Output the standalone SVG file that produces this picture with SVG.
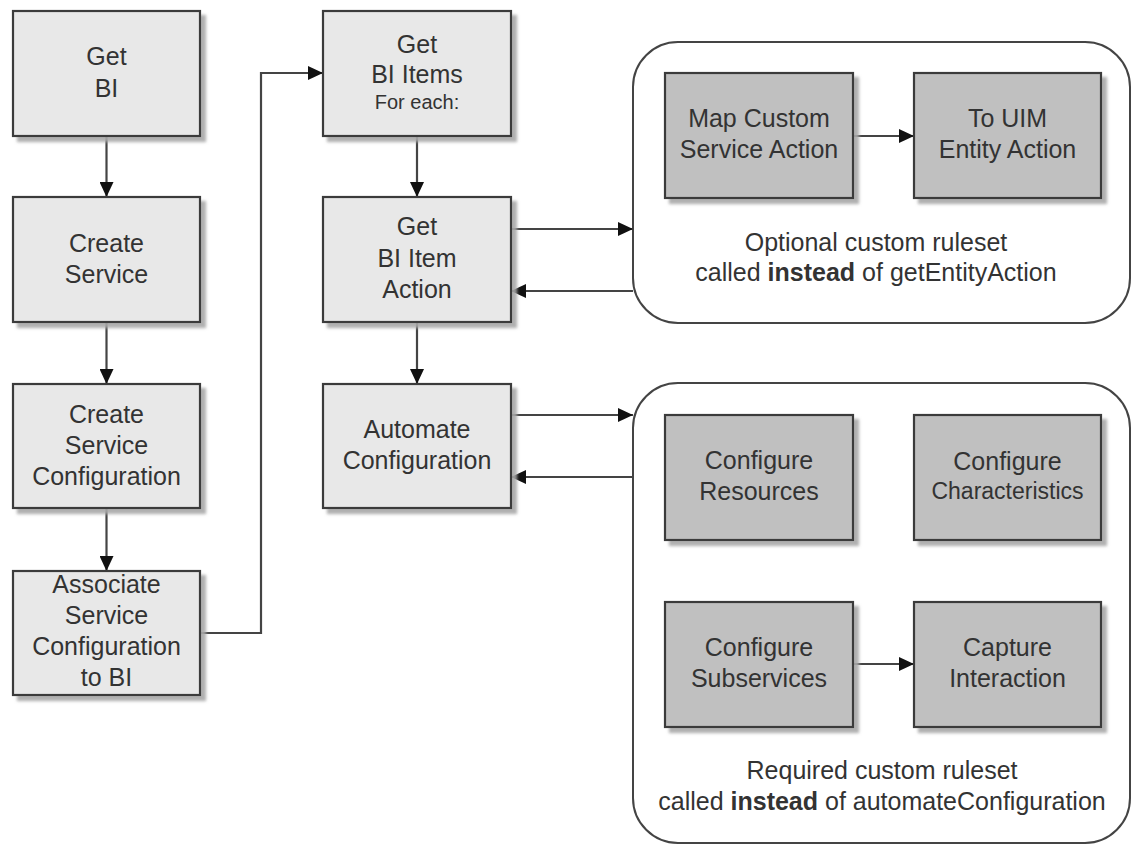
<svg xmlns="http://www.w3.org/2000/svg" width="1132" height="846" viewBox="0 0 1132 846">
<defs>
<style>
.t{font-family:"Liberation Sans",Arial,sans-serif;font-size:25px;fill:#333;text-anchor:middle}
.s{font-size:20px}
.c{font-size:23px}
.b{font-weight:bold}
.lt{fill:#e8e8e8;stroke:#3a3a3a;stroke-width:2.2}
.dk{fill:#c0c0c0;stroke:#3a3a3a;stroke-width:2.2}
.grp{fill:#fff;stroke:#444;stroke-width:2}
.ln{fill:none;stroke:#444;stroke-width:2.2;marker-end:url(#ah)}
</style>
<marker id="ah" markerUnits="userSpaceOnUse" markerWidth="15" markerHeight="14" refX="15" refY="7" orient="auto">
<path d="M0,0 L15,7 L0,14 z" fill="#111"/>
</marker>
<filter id="sh" x="-10%" y="-10%" width="130%" height="130%">
<feDropShadow dx="5" dy="5" stdDeviation="1.5" flood-color="#a8a8a8" flood-opacity="0.9"/>
</filter>
</defs>
<rect width="1132" height="846" fill="#fff"/>

<g id="group-optional">
<rect class="grp" x="633" y="42" width="497" height="281" rx="45" ry="45"/>
<text class="t" x="876" y="251">Optional custom ruleset</text>
<text class="t" x="876" y="281">called <tspan class="b">instead</tspan> of getEntityAction</text>
</g>
<g id="group-required">
<rect class="grp" x="633" y="383" width="497" height="460" rx="45" ry="45"/>
<text class="t" x="882" y="779">Required custom ruleset</text>
<text class="t" x="882" y="810">called <tspan class="b">instead</tspan> of automateConfiguration</text>
</g>

<g id="connectors">
<line class="ln" x1="106.5" y1="136" x2="106.5" y2="197"/>
<line class="ln" x1="106.5" y1="322" x2="106.5" y2="384"/>
<line class="ln" x1="106.5" y1="508" x2="106.5" y2="571"/>
<polyline class="ln" points="200,633 261,633 261,73 323,73"/>
<line class="ln" x1="417" y1="136" x2="417" y2="197"/>
<line class="ln" x1="417" y1="322" x2="417" y2="384"/>
<line class="ln" x1="511" y1="229" x2="633" y2="229"/>
<line class="ln" x1="633" y1="291" x2="511" y2="291"/>
<line class="ln" x1="511" y1="415" x2="633" y2="415"/>
<line class="ln" x1="633" y1="477" x2="511" y2="477"/>
<line class="ln" x1="853" y1="136" x2="914" y2="136"/>
<line class="ln" x1="853" y1="664" x2="914" y2="664"/>
</g>

<g id="get-bi">
<rect class="lt" filter="url(#sh)" x="13" y="11" width="187" height="125"/>
<text class="t" x="106.5" y="65">Get</text>
<text class="t" x="106.5" y="97">BI</text>
</g>
<g id="create-service">
<rect class="lt" filter="url(#sh)" x="13" y="197" width="187" height="125"/>
<text class="t" x="106.5" y="252">Create</text>
<text class="t" x="106.5" y="283">Service</text>
</g>
<g id="create-service-configuration">
<rect class="lt" filter="url(#sh)" x="13" y="384" width="187" height="124"/>
<text class="t" x="106.5" y="423">Create</text>
<text class="t" x="106.5" y="454">Service</text>
<text class="t" x="106.5" y="485">Configuration</text>
</g>
<g id="associate">
<rect class="lt" filter="url(#sh)" x="13" y="571" width="187" height="124"/>
<text class="t" x="106.5" y="593">Associate</text>
<text class="t" x="106.5" y="624">Service</text>
<text class="t" x="106.5" y="655">Configuration</text>
<text class="t" x="106.5" y="686">to BI</text>
</g>
<g id="get-bi-items">
<rect class="lt" filter="url(#sh)" x="323" y="11" width="188" height="125"/>
<text class="t" x="417" y="53">Get</text>
<text class="t" x="417" y="83">BI Items</text>
<text class="t s" x="417" y="109">For each:</text>
</g>
<g id="get-bi-item-action">
<rect class="lt" filter="url(#sh)" x="323" y="197" width="188" height="125"/>
<text class="t" x="417" y="235">Get</text>
<text class="t" x="417" y="267">BI Item</text>
<text class="t" x="417" y="298">Action</text>
</g>
<g id="automate-configuration">
<rect class="lt" filter="url(#sh)" x="323" y="384" width="188" height="124"/>
<text class="t" x="417" y="438">Automate</text>
<text class="t" x="417" y="469">Configuration</text>
</g>
<g id="map-custom">
<rect class="dk" filter="url(#sh)" x="665" y="73" width="188" height="125"/>
<text class="t" x="759" y="127">Map Custom</text>
<text class="t" x="759" y="158">Service Action</text>
</g>
<g id="to-uim">
<rect class="dk" filter="url(#sh)" x="914" y="73" width="187" height="125"/>
<text class="t" x="1007.5" y="127">To UIM</text>
<text class="t" x="1007.5" y="158">Entity Action</text>
</g>
<g id="configure-resources">
<rect class="dk" filter="url(#sh)" x="665" y="415" width="188" height="125"/>
<text class="t" x="759" y="469">Configure</text>
<text class="t" x="759" y="500">Resources</text>
</g>
<g id="configure-characteristics">
<rect class="dk" filter="url(#sh)" x="914" y="415" width="187" height="125"/>
<text class="t" x="1007.5" y="470">Configure</text>
<text class="t c" x="1007.5" y="499">Characteristics</text>
</g>
<g id="configure-subservices">
<rect class="dk" filter="url(#sh)" x="665" y="602" width="188" height="125"/>
<text class="t" x="759" y="656">Configure</text>
<text class="t" x="759" y="687">Subservices</text>
</g>
<g id="capture-interaction">
<rect class="dk" filter="url(#sh)" x="914" y="602" width="187" height="125"/>
<text class="t" x="1007.5" y="656">Capture</text>
<text class="t" x="1007.5" y="687">Interaction</text>
</g>
</svg>
